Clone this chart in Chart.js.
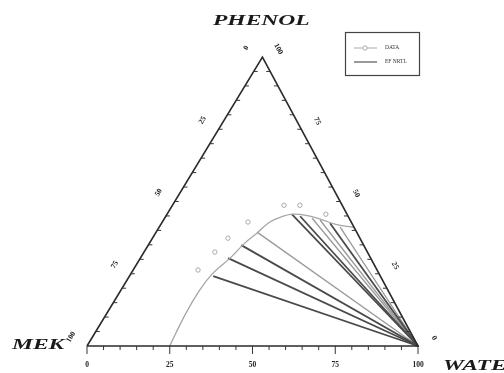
<!DOCTYPE html>
<html>
<head>
<meta charset="utf-8">
<script src="https://cdn.jsdelivr.net/npm/chart.js@4/dist/chart.umd.min.js"></script>
<style>
  body { margin: 0; background: #fff; }
  #caixa { width: 504px; height: 373px; }
</style>
</head>
<body>
<div id="caixa"><canvas id="graficoTernario" width="504" height="373"></canvas></div>
<script>
// composicoes em % (agua, fenol); MEK = 100 - agua - fenol
const verticesAgua = [0, 100, 0, 0];
const verticesFenol = [0, 0, 100, 0];

const curvaAgua = [25, 23.9, 23.8, 24.7, 27.1, 28.8, 30.8, 32.5, 35.5, 38.0, 41.8, 46.4, 52.5, 59];
const curvaFenol = [0, 10.7, 19.4, 25.2, 30.4, 35.6, 39.4, 42.9, 44.9, 45.6, 45.3, 44.2, 42.2, 41];

const modeloAgua = [25.3, 26.5, 28.1, 37.7, 40.6, 50.9];
const modeloFenol = [24.2, 30.4, 34.9, 45.6, 44.9, 42.5];

const expAgua = [30.5, 44.6, 47.3, 54.7];
const expFenol = [39.4, 44.2, 43.6, 41.1];

const faseAquosaAgua = 100;
const faseAquosaFenol = 0;

const pontosAgua = [19.6, 21.4, 22.8, 25.9, 33.7, 38.5, 48.0];
const pontosFenol = [26.3, 32.5, 37.3, 42.9, 48.7, 48.7, 45.6];

const rotulosEixo = [0, 25, 50, 75, 100];
const legendaTextos = ["DATA", "EF NRTL"];

const H = Math.sqrt(3) / 2;
const INCLINACAO = 0.53; // o vertice de cima fica um pouco para a direita no original

function converter(agua, fenol) {
  return { x: agua + fenol * INCLINACAO, y: fenol * H };
}

function serie(aguas, fenois) {
  return aguas.map((a, i) => converter(a, fenois[i]));
}

function linhaAmarracao(a, f, cor, largura) {
  return {
    data: [converter(a, f), converter(faseAquosaAgua, faseAquosaFenol)],
    borderColor: cor,
    borderWidth: largura,
    pointRadius: 0,
    showLine: true
  };
}

const datasets = [];

datasets.push({
  data: serie(verticesAgua, verticesFenol),
  borderColor: "#2b2b2b",
  borderWidth: 1.6,
  pointRadius: 0,
  showLine: true
});

datasets.push({
  data: serie(curvaAgua, curvaFenol),
  borderColor: "#a5a5a5",
  borderWidth: 1.3,
  pointRadius: 0,
  showLine: true,
  tension: 0.4
});

modeloAgua.forEach((a, i) => datasets.push(linhaAmarracao(a, modeloFenol[i], "#4a4a4a", 1.8)));
expAgua.forEach((a, i) => datasets.push(linhaAmarracao(a, expFenol[i], "#999", 1.3)));

datasets.push({
  data: serie(pontosAgua, pontosFenol),
  borderColor: "#aaa",
  backgroundColor: "#fff",
  borderWidth: 1,
  pointRadius: 2.2,
  showLine: false
});

const ternario = {
  id: "ternario",
  afterDraw(chart) {
    const ctx = chart.ctx;
    const sx = chart.scales.x;
    const sy = chart.scales.y;
    const px = (a, f) => {
      const p = converter(a, f);
      return [sx.getPixelForValue(p.x), sy.getPixelForValue(p.y)];
    };
    const [xm, ym] = px(0, 0);
    const [xw, yw] = px(100, 0);
    const [xp, yp] = px(0, 100);
    const angEsq = Math.atan2(yp - ym, xp - xm);
    const angDir = Math.atan2(yw - yp, xw - xp);

    ctx.save();
    ctx.strokeStyle = "#333";
    ctx.lineWidth = 1;

    // eixo inferior (agua)
    for (let v = 0; v <= 100; v += 5) {
      const [x, y] = px(v, 0);
      const len = v % 25 === 0 ? 8 : 4;
      ctx.beginPath();
      ctx.moveTo(x, y);
      ctx.lineTo(x, y + len);
      ctx.stroke();
    }
    // lado esquerdo (MEK) e direito (fenol)
    for (let v = 5; v < 100; v += 5) {
      const [xl, yl] = px(0, 100 - v);
      ctx.beginPath();
      ctx.moveTo(xl, yl);
      ctx.lineTo(xl + 4, yl);
      ctx.stroke();
      const [xr, yr] = px(100 - v, v);
      ctx.beginPath();
      ctx.moveTo(xr, yr);
      ctx.lineTo(xr - 4, yr);
      ctx.stroke();
    }

    ctx.fillStyle = "#222";
    ctx.font = "bold 7.5px 'Liberation Serif'";
    ctx.textAlign = "center";
    ctx.textBaseline = "middle";

    rotulosEixo.forEach(v => {
      const [x, y] = px(v, 0);
      ctx.fillText(String(v), x, y + 19);

      const [xl, yl] = px(0, 100 - v);
      ctx.save();
      ctx.translate(xl - 16, yl - 9);
      ctx.rotate(angEsq);
      ctx.fillText(String(v), 0, 0);
      ctx.restore();

      const [xr, yr] = px(100 - v, v);
      ctx.save();
      ctx.translate(xr + 16, yr - 8);
      ctx.rotate(angDir);
      ctx.fillText(String(v), 0, 0);
      ctx.restore();
    });

    // nomes dos componentes
    function titulo(texto, x, y) {
      ctx.save();
      ctx.translate(x, y);
      ctx.scale(1.68, 1);
      ctx.font = "italic bold 14px 'Liberation Serif'";
      ctx.textAlign = "left";
      ctx.textBaseline = "middle";
      ctx.fillStyle = "#1a1a1a";
      ctx.fillText(texto, 0, 0);
      ctx.restore();
    }
    titulo("PHENOL", 213, 21);
    titulo("MEK", 12, 345);
    titulo("WATER", 443, 366);

    // legenda
    ctx.strokeStyle = "#444";
    ctx.lineWidth = 1.2;
    ctx.strokeRect(345.5, 32.5, 74, 43);
    ctx.font = "5.5px 'Liberation Serif'";
    ctx.textAlign = "left";

    ctx.strokeStyle = "#a9a9a9";
    ctx.lineWidth = 1;
    ctx.beginPath();
    ctx.moveTo(354, 48);
    ctx.lineTo(377, 48);
    ctx.stroke();
    ctx.beginPath();
    ctx.arc(365, 48, 2.2, 0, Math.PI * 2);
    ctx.fillStyle = "#fff";
    ctx.fill();
    ctx.stroke();
    ctx.fillStyle = "#333";
    ctx.fillText(legendaTextos[0], 385, 48);

    ctx.strokeStyle = "#555";
    ctx.lineWidth = 1.2;
    ctx.beginPath();
    ctx.moveTo(354, 62);
    ctx.lineTo(377, 62);
    ctx.stroke();
    ctx.fillText(legendaTextos[1], 385, 62);

    ctx.restore();
  }
};

new Chart(document.getElementById("graficoTernario"), {
  type: "scatter",
  data: { datasets },
  options: {
    responsive: false,
    animation: false,
    clip: false,
    layout: { padding: { left: 87, right: 86, top: 57, bottom: 27 } },
    scales: {
      x: { type: "linear", min: 0, max: 100, display: false },
      y: { type: "linear", min: 0, max: 100 * H, display: false }
    },
    plugins: {
      legend: { display: false },
      tooltip: { enabled: false }
    }
  },
  plugins: [ternario]
});
</script>
</body>
</html>
